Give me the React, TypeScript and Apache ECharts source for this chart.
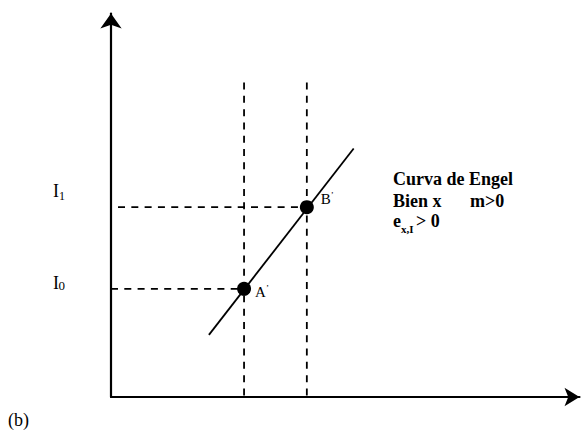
import React, { useEffect, useRef } from "react";
import * as echarts from "echarts";

// Data (axis units 0..10 on both axes)
const quantities = [2.84, 4.18]; // x_A, x_B
const incomes = [2.82, 4.95]; // I0, I1
const engelX = [2.09, 5.18];
const engelY = [1.62, 6.48];
const pointNames = ["A", "B"];
const dashTop = 8.2;
const dashStartI1 = 0.15;

const SERIF = "'Liberation Serif', 'Times New Roman', serif";

export default function App() {
  const ref = useRef<HTMLDivElement>(null);
  useEffect(() => {
    document.body.style.margin = "0";
    const chart = echarts.init(ref.current!, undefined, { renderer: "svg" });
    const dashStyle = { color: "#000", width: 1.8, type: [7, 6.3] as any };
    const axisCommon = {
      type: "value" as const,
      min: 0,
      max: 10,
      axisTick: { show: false },
      axisLabel: { show: false },
      splitLine: { show: false },
    };
    const option: any = {
      animation: false,
      grid: { left: 111, right: 7.5, top: 13.5, bottom: 38 },
      xAxis: {
        ...axisCommon,
        axisLine: {
          show: true,
          symbol: ["none", "arrow"],
          symbolSize: [14, 15],
          lineStyle: { color: "#000", width: 2.2 },
        },
      },
      yAxis: {
        ...axisCommon,
        axisLine: {
          show: true,
          symbol: ["none", "arrow"],
          symbolSize: [16, 15],
          lineStyle: { color: "#000", width: 2.2 },
        },
      },
      series: [
        {
          type: "line",
          symbol: "none",
          lineStyle: dashStyle,
          data: [
            [quantities[0], dashTop],
            [quantities[0], 0],
          ],
        },
        {
          type: "line",
          symbol: "none",
          lineStyle: dashStyle,
          data: [
            [quantities[1], dashTop],
            [quantities[1], 0],
          ],
        },
        {
          type: "line",
          symbol: "none",
          lineStyle: dashStyle,
          data: [
            [0, incomes[0]],
            [quantities[0], incomes[0]],
          ],
        },
        {
          type: "line",
          symbol: "none",
          lineStyle: dashStyle,
          data: [
            [dashStartI1, incomes[1]],
            [quantities[1], incomes[1]],
          ],
        },
        {
          type: "line",
          symbol: "none",
          lineStyle: { color: "#000", width: 1.8 },
          data: engelX.map((x, i) => [x, engelY[i]]),
        },
        {
          type: "scatter",
          symbol: "circle",
          symbolSize: 14,
          itemStyle: { color: "#000", opacity: 1 },
          data: quantities.map((x, i) => ({
            value: [x, incomes[i]],
            name: pointNames[i],
            label: {
              show: true,
              position: "right",
              distance: i === 0 ? 4 : 7,
              offset: i === 0 ? [0, 3] : [0, -9],
              formatter: "{a|" + pointNames[i] + "}{p|’}",
              rich: {
                a: { fontFamily: SERIF, fontSize: 15, color: "#000", verticalAlign: "bottom", lineHeight: 16 },
                p: { fontFamily: SERIF, fontSize: 9, color: "#000", verticalAlign: "top", lineHeight: 10 },
              },
            },
          })),
        },
      ],
      graphic: [
        { type: "text", left: 53, top: 182, style: { text: "I", font: `18px ${SERIF}`, fill: "#000" } },
        { type: "text", left: 59, top: 190, style: { text: "1", font: `12px ${SERIF}`, fill: "#000" } },
        { type: "text", left: 53, top: 274, style: { text: "I", font: `18px ${SERIF}`, fill: "#000" } },
        { type: "text", left: 58.5, top: 278.5, style: { text: "0", font: `13px ${SERIF}`, fill: "#000" } },
        { type: "text", left: 8, top: 411, style: { text: "(b)", font: `18px ${SERIF}`, fill: "#000" } },
        { type: "text", left: 393, top: 170, style: { text: "Curva de Engel", font: `bold 18px ${SERIF}`, fill: "#000" } },
        { type: "text", left: 393, top: 192, style: { text: "Bien x", font: `bold 18px ${SERIF}`, fill: "#000" } },
        { type: "text", left: 470, top: 192, style: { text: "m>0", font: `bold 18px ${SERIF}`, fill: "#000" } },
        { type: "text", left: 393, top: 212, style: { text: "e", font: `bold 18px ${SERIF}`, fill: "#000" } },
        { type: "text", left: 401, top: 223, style: { text: "x,I", font: `bold 11px ${SERIF}`, fill: "#000" } },
        { type: "text", left: 416, top: 212, style: { text: "> 0", font: `bold 18px ${SERIF}`, fill: "#000" } },
      ],
    };
    chart.setOption(option);
    return () => chart.dispose();
  }, []);
  return <div ref={ref} style={{ width: 587, height: 435 }} />;
}
